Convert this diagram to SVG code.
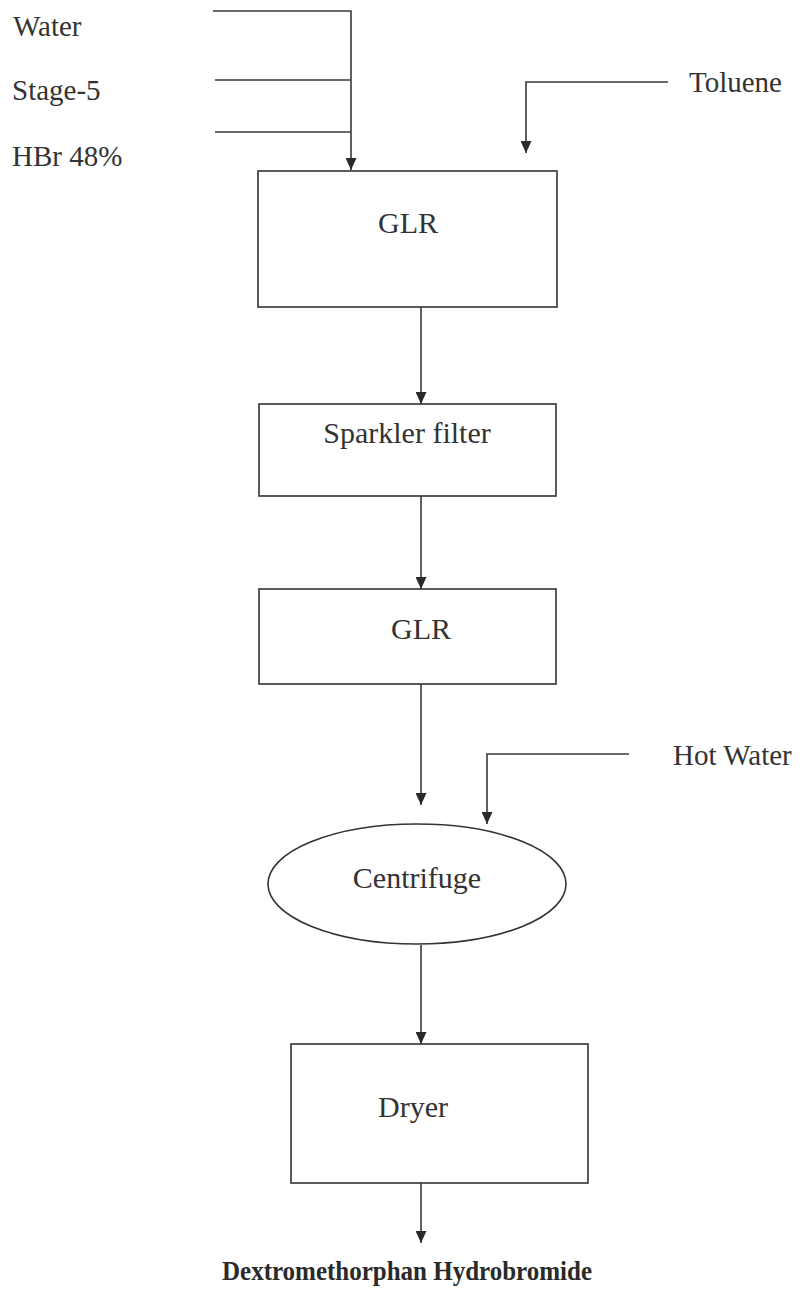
<svg xmlns="http://www.w3.org/2000/svg" width="807" height="1291" viewBox="0 0 807 1291">
  <style>
    .box { fill: #ffffff; stroke: #333333; stroke-width: 1.6; }
    .conn { fill: none; stroke: #3a3a3a; stroke-width: 1.6; }
    .lbl { font-family: "Liberation Serif", "Times New Roman", serif; font-size: 29px; fill: #333333; }
    .node { font-family: "Liberation Serif", "Times New Roman", serif; font-size: 30px; fill: #333333; text-anchor: middle; }
    .title { font-family: "Liberation Serif", "Times New Roman", serif; font-size: 28px; font-weight: bold; fill: #2a2a2a; text-anchor: middle; }
  </style>
  <defs>
    <marker id="arr" markerUnits="userSpaceOnUse" markerWidth="12" markerHeight="11" refX="12" refY="5.5" orient="auto">
      <path d="M0,0 L12,5.5 L0,11 z" fill="#2a2a2a"/>
    </marker>
  </defs>
  <rect width="807" height="1291" fill="#ffffff"/>

  <g id="connectors">
    <path class="conn" d="M213,11 H351 V170" marker-end="url(#arr)"/>
    <path class="conn" d="M215,80 H351"/>
    <path class="conn" d="M215,132 H351"/>
    <path class="conn" d="M668,82 H526 V153" marker-end="url(#arr)"/>
    <path class="conn" d="M421,307 V404" marker-end="url(#arr)"/>
    <path class="conn" d="M421,496 V589" marker-end="url(#arr)"/>
    <path class="conn" d="M421,684 V805" marker-end="url(#arr)"/>
    <path class="conn" d="M629,754 H487 V824" marker-end="url(#arr)"/>
    <path class="conn" d="M421,945 V1044" marker-end="url(#arr)"/>
    <path class="conn" d="M421,1183 V1243" marker-end="url(#arr)"/>
  </g>

  <g id="inputs">
    <text class="lbl" x="13" y="36">Water</text>
    <text class="lbl" x="12" y="100">Stage-5</text>
    <text class="lbl" x="12" y="166">HBr 48%</text>
    <text class="lbl" x="689" y="92">Toluene</text>
    <text class="lbl" x="673" y="765">Hot Water</text>
  </g>

  <g id="glr1">
    <rect class="box" x="258" y="171" width="299" height="136"/>
    <text class="node" x="408" y="233">GLR</text>
  </g>
  <g id="sparkler">
    <rect class="box" x="259" y="404" width="297" height="92"/>
    <text class="node" x="407" y="443">Sparkler filter</text>
  </g>
  <g id="glr2">
    <rect class="box" x="259" y="589" width="297" height="95"/>
    <text class="node" x="421" y="639">GLR</text>
  </g>
  <g id="centrifuge">
    <ellipse class="box" cx="417" cy="884" rx="149" ry="60"/>
    <text class="node" x="417" y="888">Centrifuge</text>
  </g>
  <g id="dryer">
    <rect class="box" x="291" y="1044" width="297" height="139"/>
    <text class="node" x="413" y="1117">Dryer</text>
  </g>
  <g id="product">
    <text class="title" x="407" y="1280" textLength="370" lengthAdjust="spacingAndGlyphs">Dextromethorphan Hydrobromide</text>
  </g>
</svg>
